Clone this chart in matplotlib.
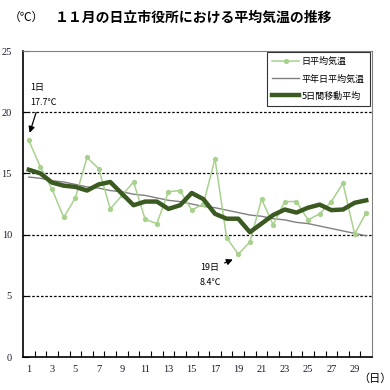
import numpy as np
import matplotlib.pyplot as plt

plt.rcParams['font.family'] = ['Noto Sans CJK JP', 'DejaVu Sans']

# data
days = np.arange(1, 31)
daily = [17.7, 15.5, 13.7, 11.4, 13.0, 16.3, 15.4, 12.1, 13.2, 14.3,
         11.25, 10.9, 13.5, 13.6, 12.0, 12.5, 16.2, 9.75, 8.4, 9.4,
         12.9, 10.8, 12.7, 12.7, 11.2, 11.7, 12.7, 14.2, 10.05, 11.8]
normal = [14.7, 14.6, 14.4, 14.3, 14.1, 13.9, 13.8, 13.6, 13.5, 13.3,
          13.2, 13.0, 12.8, 12.7, 12.5, 12.3, 12.2, 12.0, 11.8, 11.6,
          11.5, 11.3, 11.2, 11.0, 10.9, 10.7, 10.5, 10.3, 10.1, 9.9]
avg5 = [15.3, 15.0, 14.25, 14.0, 13.9, 13.6, 14.1, 14.3, 13.35, 12.4,
        12.7, 12.7, 12.1, 12.4, 13.4, 12.9, 11.7, 11.3, 11.3, 10.2,
        10.9, 11.6, 12.05, 11.8, 12.2, 12.45, 12.0, 12.05, 12.6, 12.8]
labels = ['日平均気温', '平年日平均気温', '5日間移動平均']

fig = plt.figure(figsize=(3.9, 3.9), dpi=100)
ax = fig.add_axes([0.059, 0.0846, 0.895, 0.7846])

ax.plot(days, daily, color='#a9d18e', lw=1.1, marker='o', ms=3.8,
        markeredgewidth=0, label=labels[0], zorder=3)
ax.plot(days, normal, color='#808080', lw=1.0, label=labels[1], zorder=2)
ax.plot(days, avg5, color='#3b5a21', lw=3.2, label=labels[2], zorder=4)

ax.set_xlim(0.5, 30.5)
ax.set_ylim(0, 25)

# dotted grid
for v in [5, 10, 15, 20]:
    ax.axhline(v, color='black', lw=0.9, ls=(0, (2, 1.5)), zorder=1)

ax.set_yticks([0, 5, 10, 15, 20, 25])
ax.set_xticks(np.arange(1, 30, 2))
ax.set_xticks(np.arange(1.5, 30.5, 1), minor=True)
ax.tick_params(axis='x', which='major', length=0, pad=6)
ax.tick_params(axis='x', which='minor', direction='in', length=4, width=0.8)
ax.tick_params(axis='y', direction='in', length=4, width=0.8, pad=8)
for lab in ax.get_xticklabels() + ax.get_yticklabels():
    lab.set_fontfamily('Liberation Serif')
    lab.set_fontsize(7.5)
    lab.set_color('#1a1a2e')

ax.spines['left'].set_color('black')
ax.spines['bottom'].set_color('black')
ax.spines['left'].set_linewidth(1.2)
ax.spines['bottom'].set_linewidth(1.2)
ax.spines['top'].set_color('#808080')
ax.spines['right'].set_color('#808080')

# annotations
ax.annotate('', xy=(1.0, 18.1), xytext=(1.7, 20.2),
            arrowprops=dict(arrowstyle='-|>', color='black', lw=0.9, mutation_scale=9))
ax.text(1.1, 22.0, '1日', fontsize=6.5, va='center', ha='left')
ax.text(1.1, 20.8, '17.7℃', fontsize=6.5, va='center', ha='left')
ax.annotate('', xy=(18.75, 8.05), xytext=(17.6, 7.6),
            arrowprops=dict(arrowstyle='-|>', color='black', lw=0.9, mutation_scale=9))
ax.text(15.7, 7.3, '19日', fontsize=6.5, va='center', ha='left')
ax.text(15.7, 6.1, '8.4℃', fontsize=6.5, va='center', ha='left')

leg = ax.legend(loc='upper right', bbox_to_anchor=(0.995, 0.998), fontsize=6.5,
                frameon=True, fancybox=False, handlelength=3.0, handletextpad=0.3,
                borderpad=0.6, labelspacing=0.9, borderaxespad=0)
leg.get_frame().set_edgecolor('black')
leg.get_frame().set_linewidth(0.8)

fig.text(0.022, 0.955, '（℃）', fontsize=8.5, va='center', ha='left')
fig.text(0.14, 0.955, '１１月の日立市役所における平均気温の推移', fontsize=10,
         fontweight='bold', va='center', ha='left')
fig.text(0.918, 0.03, '（日）', fontsize=8, va='center', ha='left')

fig.savefig('out.png', dpi=100)
